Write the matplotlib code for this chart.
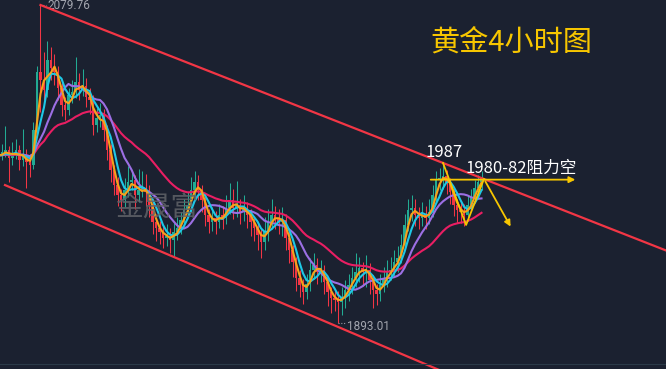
import numpy as np
import pandas as pd
import matplotlib.pyplot as plt
from matplotlib.lines import Line2D

# 4h gold bars, prices
warmup = [1990.5, 1993.2, 1989.8, 1992.6, 1995.1, 1991.4, 1988.9, 1990.7, 1994.3, 1992.0,
          1989.5, 1991.8, 1993.9, 1990.2, 1987.8, 1990.9, 1994.7, 1992.5, 1989.4, 1991.3,
          1993.6, 1990.8, 1988.6, 1991.9, 1995.0, 1992.2, 1989.7, 1992.8, 1990.4, 1991.6]

closes = [1993.4, 1994.6, 1989.9, 1992.3, 1994.6, 1988.7, 1991.1, 1987.6, 1985.8, 2006.4,
          2040.4, 2036.0, 2029.9, 2047.5, 2042.8, 2040.4, 2031.0, 2021.0, 2018.1, 2026.9,
          2028.7, 2034.5, 2029.9, 2032.2, 2025.7, 2024.0, 2009.3, 2013.4, 2015.2, 2006.4,
          1994.6, 1982.9, 1974.1, 1968.2, 1965.3, 1971.1, 1975.9, 1977.0, 1968.2, 1971.1,
          1972.3, 1970.0, 1962.3, 1952.4, 1948.8, 1946.5, 1943.0, 1944.1, 1941.8, 1946.5,
          1948.8, 1953.6, 1959.4, 1962.3, 1971.1, 1975.9, 1971.1, 1965.3, 1956.5, 1952.4,
          1954.7, 1952.4, 1956.5, 1954.7, 1960.6, 1965.3, 1960.6, 1962.3, 1958.3, 1960.6,
          1956.5, 1952.4, 1948.8, 1944.7, 1940.6, 1946.5, 1952.4, 1956.5, 1954.7, 1952.4,
          1953.6, 1943.0, 1935.9, 1928.8, 1919.5, 1915.4, 1911.2, 1916.0, 1924.2, 1927.1,
          1923.0, 1924.2, 1917.1, 1911.2, 1907.7, 1906.6, 1905.4, 1907.7, 1912.4, 1915.4,
          1919.5, 1923.0, 1925.3, 1923.0, 1924.2, 1918.3, 1912.4, 1910.0, 1915.4, 1919.5,
          1923.0, 1924.2, 1928.8, 1931.2, 1938.8, 1950.6, 1959.4, 1960.6, 1956.5, 1954.7,
          1957.1, 1954.7, 1958.3, 1968.2, 1977.0, 1978.2, 1979.4, 1975.9, 1970.0, 1962.3,
          1959.4, 1958.3, 1956.5, 1962.3, 1966.5, 1972.3, 1975.9, 1978.2]

highs = [1998.0, 2008.5, 1997.0, 1999.5, 2001.0, 1997.5, 2007.0, 1995.0, 1992.0, 2011.0,
         2044.0, 2079.76, 2052.0, 2058.5, 2055.0, 2051.0, 2044.0, 2034.0, 2026.0, 2031.0,
         2036.0, 2049.5, 2040.0, 2042.0, 2037.0, 2031.0, 2027.0, 2019.0, 2022.0, 2018.5,
         2009.0, 1998.0, 1986.0, 1979.0, 1972.0, 1978.0, 1985.0, 1983.0, 1980.0, 1983.5,
         1982.0, 1980.5, 1974.0, 1966.0, 1957.0, 1953.0, 1950.0, 1951.0, 1949.0, 1952.0,
         1955.0, 1958.0, 1966.0, 1970.0, 1979.0, 1982.5, 1980.0, 1974.0, 1968.0, 1960.0,
         1961.0, 1959.0, 1963.0, 1962.0, 1968.0, 1975.0, 1972.0, 1976.5, 1966.0, 1968.0,
         1964.0, 1960.0, 1956.0, 1952.0, 1948.0, 1955.0, 1960.0, 1966.0, 1962.0, 1960.0,
         1961.0, 1957.0, 1947.0, 1939.0, 1932.0, 1924.0, 1919.0, 1922.0, 1931.0, 1934.0,
         1931.0, 1930.0, 1927.0, 1920.0, 1914.0, 1913.0, 1912.0, 1914.0, 1918.0, 1922.0,
         1926.0, 1934.0, 1932.0, 1929.0, 1933.0, 1928.0, 1921.0, 1916.0, 1922.0, 1926.0,
         1930.0, 1932.0, 1936.0, 1938.0, 1945.0, 1957.0, 1966.0, 1968.0, 1966.0, 1961.0,
         1964.0, 1962.0, 1966.0, 1974.0, 1982.5, 1984.0, 1987.0, 1983.0, 1978.0, 1973.0,
         1966.0, 1964.0, 1963.0, 1968.0, 1972.0, 1977.0, 1980.0, 1982.0]

lows = [1989.0, 1990.5, 1976.0, 1986.0, 1989.5, 1983.0, 1985.0, 1972.5, 1979.0, 1983.5,
        2002.0, 2017.0, 2024.0, 2026.0, 2036.0, 2033.0, 2024.0, 2014.5, 2012.0, 2015.0,
        2022.0, 2025.0, 2024.0, 2026.5, 2020.0, 2016.0, 2003.5, 2005.0, 2008.0, 2000.0,
        1989.0, 1976.0, 1968.0, 1962.0, 1959.0, 1961.0, 1967.0, 1971.0, 1960.0, 1964.0,
        1967.0, 1962.0, 1955.0, 1945.0, 1941.0, 1939.5, 1937.0, 1938.0, 1934.0, 1932.5,
        1942.0, 1945.0, 1950.0, 1955.0, 1958.0, 1966.0, 1965.0, 1958.0, 1950.0, 1946.0,
        1947.0, 1945.5, 1949.0, 1948.0, 1951.0, 1957.0, 1954.0, 1955.0, 1951.0, 1953.0,
        1949.0, 1944.0, 1941.0, 1936.0, 1931.0, 1936.0, 1941.0, 1948.0, 1948.0, 1945.0,
        1944.0, 1936.0, 1928.0, 1920.0, 1912.0, 1908.0, 1904.0, 1907.0, 1912.0, 1919.0,
        1916.0, 1917.0, 1910.0, 1903.0, 1899.0, 1900.0, 1893.01, 1898.0, 1902.0, 1906.0,
        1910.0, 1914.0, 1917.0, 1915.0, 1914.0, 1910.0, 1902.0, 1903.5, 1906.0, 1911.0,
        1914.0, 1918.0, 1920.0, 1923.0, 1928.0, 1936.0, 1947.0, 1953.0, 1950.0, 1948.0,
        1950.0, 1948.0, 1951.0, 1955.0, 1964.0, 1971.0, 1972.0, 1969.0, 1963.0, 1956.0,
        1952.0, 1951.5, 1950.0, 1953.0, 1959.0, 1964.0, 1968.0, 1971.0]

# analyst drawings: (bar index, price)
upper_channel = [(11, 2079.76), (126, 1987.0)]
lower_channel = [(0.86, 1974.0), (122.3, 1867.7)]
zigzag = [(126, 1987.0), (132.6, 1950.6), (137.7, 1977.6), (145.7, 1948.2)]
resistance = [(121.7, 1977.2), (164.6, 1977.2)]

bg = '#1b2130'
up_col, dn_col = '#22ab94', '#f23645'
cjk = ['Noto Sans CJK SC', 'DejaVu Sans']

fig = plt.figure(figsize=(6.66, 3.69), dpi=100, facecolor=bg)
ax = fig.add_axes([0, 0, 1, 1])
ax.set_facecolor(bg)
ax.set_xlim(-0.571, 189.71)
ax.set_ylim(1866.0, 2082.7)
ax.axis('off')

c = np.array(closes)
o = np.array([warmup[-1]] + closes[:-1])
h = np.array(highs)
l = np.array(lows)
x = np.arange(len(c))
col = np.where(c >= o, up_col, dn_col)

# candles
ax.vlines(x, l, h, colors=col, lw=0.75, zorder=2)
ax.bar(x, np.maximum(np.abs(c - o), 0.4), bottom=np.minimum(o, c), width=0.6,
       color=col, linewidth=0, zorder=2)

# moving averages
s = pd.Series(warmup + closes, index=np.arange(-len(warmup), len(closes)))
ma_pink = s.ewm(span=30, adjust=False).mean()
ma_purple = s.rolling(10, min_periods=1).mean()
ma_cyan = s.rolling(5, min_periods=1).mean()
ma_orange = s.rolling(3, min_periods=1).mean()
ax.plot(ma_pink.index, ma_pink.values, color='#e91e63', lw=1.5, zorder=3)
ax.plot(ma_purple.index, ma_purple.values, color='#9c6fe4', lw=1.5, zorder=3)
ax.plot(ma_cyan.index, ma_cyan.values, color='#1ec8e6', lw=1.5, zorder=4)
ax.plot(ma_orange.index, ma_orange.values, color='#f7a21b', lw=1.5, zorder=4)

# channel lines
def extend(pts, x_end):
    (x0, y0), (x1, y1) = pts
    k = (y1 - y0) / (x1 - x0)
    return [x0, x_end], [y0, y0 + k * (x_end - x0)]

ux, uy = extend(upper_channel, 200)
lx, ly = extend(lower_channel, 200)
ax.plot(ux, uy, color='#f23645', lw=1.6, zorder=5)
ax.plot(lx, ly, color='#f23645', lw=1.6, zorder=5)

# yellow drawings
yel = '#f7c600'
zx, zy = zip(*zigzag)
ax.plot(zx[:-1], zy[:-1], color=yel, lw=1.3, zorder=6)
ax.annotate('', xy=zigzag[-1], xytext=zigzag[-2],
            arrowprops=dict(arrowstyle='-|>', color=yel, lw=1.3, mutation_scale=9), zorder=6)
ax.annotate('', xy=resistance[1], xytext=resistance[0],
            arrowprops=dict(arrowstyle='-|>', color=yel, lw=1.3, mutation_scale=9), zorder=6)

# high / low labels
ih, il = int(np.argmax(h)), int(np.argmin(l))
ax.plot([ih, ih + 1.6], [h[ih], h[ih]], color='#9598a1', lw=0.8, ls=(0, (1, 1.5)))
ax.text(ih + 1.9, h[ih], f'{h[ih]:.2f}', color='#a3a6af', fontsize=8.5,
        family='Roboto', va='center', ha='left')
ax.plot([il, il + 2.3], [l[il], l[il]], color='#9598a1', lw=0.8, ls=(0, (1, 1.5)))
ax.text(il + 2.6, l[il] - 2.0, f'{l[il]:.2f}', color='#a3a6af', fontsize=8.5,
        family='Roboto', va='center', ha='left')

# annotation texts
ax.text(126.3, 1993.4, '1987', color='white', fontsize=12, family=cjk,
        ha='center', va='center', zorder=7)
ax.text(132.3, 1984.0, '1980-82阻力空', color='white', fontsize=12, family=cjk,
        ha='left', va='center', zorder=7)
ax.text(155 / 3.5, 1960.5, '金晟富', color='#606268', alpha=0.85, fontsize=20,
        family=cjk, ha='center', va='center', zorder=5)
fig.text(430 / 666, 1 - 43 / 369, '黄金4小时图', color=yel, fontsize=21,
         family=cjk, ha='left', va='center')

fig.add_artist(Line2D([0, 1], [5 / 369, 5 / 369], color='#2b3a48', lw=0.8))

fig.savefig('out.png', dpi=100, facecolor=bg)
